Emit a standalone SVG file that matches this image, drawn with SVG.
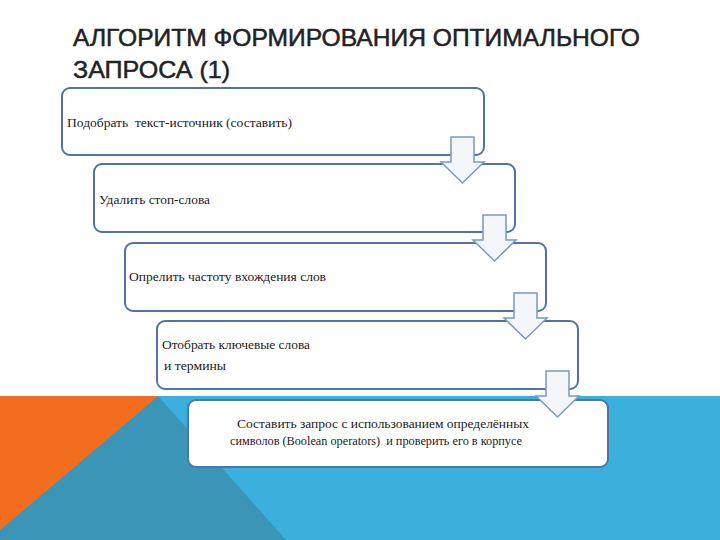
<svg xmlns="http://www.w3.org/2000/svg" width="720" height="540" viewBox="0 0 720 540">
<defs>
<style>
.box{fill:#ffffff;stroke:#4f74a6;stroke-width:2}
.arr{fill:#f3f6fa;stroke:#7c98c4;stroke-width:1.5;stroke-linejoin:miter}
.t{font-family:'Liberation Serif','Times New Roman',serif;font-size:13px;fill:#1a1a1a;white-space:pre}
.title{font-family:'Liberation Sans',Arial,sans-serif;font-size:24px;fill:#222222;stroke:#222222;stroke-width:0.5}
</style>
<path id="arrow" d="M0,0 H23 V25 H33 L11.5,46 L-10,25 H0 Z"/>
</defs>
<rect x="0" y="0" width="720" height="540" fill="#ffffff"/>
<g id="background">
<rect x="0" y="396" width="720" height="144" fill="#3bb0dc"/>
<polygon points="158,396 286,540 0,540 0,530" fill="#3a95b6"/>
<polygon points="0,396 158,396 0,530" fill="#f26d1e"/>
</g>
<g id="title">
<text class="title" x="73" y="46" textLength="567" lengthAdjust="spacingAndGlyphs">АЛГОРИТМ ФОРМИРОВАНИЯ ОПТИМАЛЬНОГО</text>
<text class="title" x="73" y="78" textLength="157" lengthAdjust="spacingAndGlyphs">ЗАПРОСА (1)</text>
</g>
<g id="node1">
<rect class="box" x="62" y="88" width="422" height="67" rx="8"/>
<text class="t" font-family="Liberation Serif, serif" x="67" y="127" textLength="225" lengthAdjust="spacingAndGlyphs" xml:space="preserve">Подобрать  текст-источник (составить)</text>
</g>
<g id="node2">
<rect class="box" x="94" y="164" width="421" height="68" rx="8"/>
<text class="t" font-family="Liberation Serif, serif" x="99" y="204" textLength="111" lengthAdjust="spacingAndGlyphs">Удалить стоп-слова</text>
</g>
<g id="node3">
<rect class="box" x="125" y="243" width="421" height="68" rx="8"/>
<text class="t" font-family="Liberation Serif, serif" x="129" y="281" textLength="197" lengthAdjust="spacingAndGlyphs">Опрелить частоту вхождения слов</text>
</g>
<g id="node4">
<rect class="box" x="157" y="321" width="421" height="68" rx="8"/>
<text class="t" font-family="Liberation Serif, serif" x="162" y="349" textLength="148" lengthAdjust="spacingAndGlyphs">Отобрать ключевые слова</text>
<text class="t" font-family="Liberation Serif, serif" x="164" y="370" textLength="62" lengthAdjust="spacingAndGlyphs">и термины</text>
</g>
<g id="node5">
<rect class="box" x="188" y="400" width="420" height="67" rx="8"/>
<text class="t" font-family="Liberation Serif, serif" x="237" y="428" textLength="292" lengthAdjust="spacingAndGlyphs">Составить запрос с использованием определённых</text>
<text class="t" font-family="Liberation Serif, serif" x="230" y="445" textLength="292" lengthAdjust="spacingAndGlyphs" xml:space="preserve">символов (Boolean operators)  и проверить его в корпусе</text>
</g>
<g id="connectors">
<use href="#arrow" class="arr" x="451" y="137"/>
<use href="#arrow" class="arr" x="483" y="215"/>
<use href="#arrow" class="arr" x="514" y="293"/>
<use href="#arrow" class="arr" x="546" y="371"/>
</g>
</svg>
